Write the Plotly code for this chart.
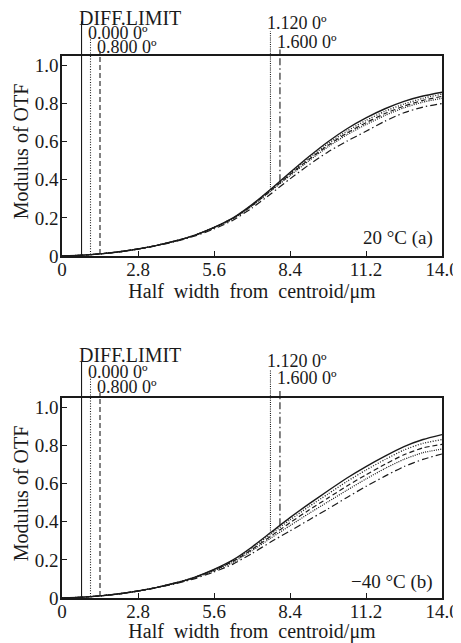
import numpy as np
import plotly.graph_objects as go

# ---------------- data ----------------
x_um = [0, 0.7, 1.4, 2.1, 2.8, 3.5, 4.2, 4.9, 5.6, 6.3, 7.0, 7.7, 8.4, 9.1, 9.8,
        10.5, 11.2, 11.9, 12.6, 13.3, 14.0]

series_names = ["DIFF.LIMIT", "0.000 0º", "0.800 0º", "1.120 0º", "1.600 0º"]
field_marker_x = [0.72, 1.05, 1.40, 7.68, 8.03]

# (a) 20 °C
top_diff = [0, .004, .011, .022, .037, .056, .080, .110, .150, .200, .270, .352, .438,
            .522, .600, .668, .725, .773, .812, .840, .860]
top_000 = [0, .004, .011, .022, .037, .056, .080, .110, .150, .199, .268, .349, .433,
           .514, .590, .656, .712, .760, .798, .828, .850]
top_800 = [0, .004, .011, .022, .037, .056, .080, .109, .149, .197, .265, .345, .428,
           .507, .581, .646, .700, .748, .787, .817, .838]
top_1120 = [0, .004, .011, .022, .037, .056, .079, .108, .147, .195, .262, .341, .422,
            .500, .573, .637, .690, .738, .778, .808, .828]
top_1600 = [0, .004, .011, .021, .036, .054, .077, .105, .142, .188, .252, .327, .405,
            .479, .546, .603, .655, .708, .752, .782, .800]

# (b) -40 °C
bot_diff = [0, .004, .011, .022, .037, .056, .080, .110, .150, .200, .268, .345, .422,
            .494, .563, .630, .690, .745, .795, .832, .858]
bot_000 = [0, .004, .011, .022, .037, .056, .080, .109, .148, .196, .262, .336, .410,
           .480, .546, .612, .672, .727, .777, .812, .832]
bot_800 = [0, .004, .011, .022, .037, .056, .079, .108, .146, .192, .255, .325, .395,
           .462, .525, .588, .647, .702, .752, .788, .807]
bot_1120 = [0, .004, .011, .022, .037, .055, .078, .106, .143, .187, .248, .315, .380,
            .444, .505, .566, .625, .680, .728, .763, .782]
bot_1600 = [0, .004, .011, .021, .036, .054, .076, .102, .137, .178, .234, .295, .352,
            .410, .468, .528, .586, .640, .690, .728, .756]

x_tickvals = [0, 2.8, 5.6, 8.4, 11.2, 14.0]
x_ticktext = ["0", "2.8", "5.6", "8.4", "11.2", "14.0"]
y_tickvals = [0, 0.2, 0.4, 0.6, 0.8, 1.0]
y_ticktext = ["0", "0.2", "0.4", "0.6", "0.8", "1.0"]

panel_notes = ["20 °C (a)", "−40 °C (b)"]
x_title = "Half\u00a0 width\u00a0 from\u00a0 centroid/μm"
y_title = "Modulus of OTF"

# ---------------- style / layout ----------------
# the page body has an 8px margin, so the figure is drawn 8px in from the corner
OFF = 8
W, H = 461 - OFF, 643 - OFF
ML, MR, MT = 62 - OFF, 19, 0
PANEL_BOTTOM_WIN = [256, 598]
MB = H - (PANEL_BOTTOM_WIN[1] - OFF)
PH = H - MT - MB
FONT = "Liberation Serif"
INK = "#1a1a1a"
dashes = ["solid", "1px,1.6px", "5px,3px", "1px,1.2px", "7px,3px,1.5px,3px"]
widths = [1.4, 1.3, 1.2, 1.2, 1.2]

Y_MAIN_TOP = 1.05
Y_UP_TOP = 1.30
# per-panel label text heights and vertical marker tops (upper band, data units)
label_y = [[1.250, 1.172, 1.097, 1.222, 1.124], [1.274, 1.184, 1.106, 1.242, 1.154]]
line_top = [[1.232, 1.153, 1.084, 1.180, 1.084], [1.240, 1.158, 1.084, 1.198, 1.094]]
note_y = [0.095, 0.085]
title_standoff = [4, 5]

panel_bottom_px = [v - OFF for v in PANEL_BOTTOM_WIN]
main_h_px = 200


def dom(px_low, px_high):
    return [(H - MB - px_low) / PH, min(1.0, (H - MB - px_high) / PH)]


fig = go.Figure()
panels = [
    [top_diff, top_000, top_800, top_1120, top_1600],
    [bot_diff, bot_000, bot_800, bot_1120, bot_1600],
]

layout_axes = {}
annotations = []
for p, series in enumerate(panels):
    xm = f"x{2 * p + 1}" if p else "x"
    ym = f"y{2 * p + 1}" if p else "y"
    xu = f"x{2 * p + 2}"
    yu = f"y{2 * p + 2}"
    b = panel_bottom_px[p]
    t = b - main_h_px
    up_px = (Y_UP_TOP - Y_MAIN_TOP) / Y_MAIN_TOP * main_h_px
    d_main = dom(b, t)
    d_up = dom(t, t - up_px)

    # curves
    for k, ys in enumerate(series):
        fig.add_trace(go.Scatter(x=x_um, y=ys, mode="lines", xaxis=xm, yaxis=ym,
                                 line=dict(color=INK, width=widths[k], dash=dashes[k],
                                           shape="spline", smoothing=0.6),
                                 showlegend=False, hoverinfo="skip"))
    # vertical field markers (from the diffraction curve up into the label band)
    for k, xv in enumerate(field_marker_x):
        y0 = float(np.interp(xv, x_um, series[0]))
        fig.add_trace(go.Scatter(x=[xv, xv], y=[y0, Y_UP_TOP], mode="lines",
                                 xaxis=xm, yaxis=ym,
                                 line=dict(color=INK, width=1.1, dash=dashes[k]),
                                 showlegend=False, hoverinfo="skip"))
        fig.add_trace(go.Scatter(x=[xv, xv], y=[Y_MAIN_TOP, line_top[p][k]], mode="lines",
                                 xaxis=xu, yaxis=yu,
                                 line=dict(color=INK, width=1.1, dash=dashes[k]),
                                 showlegend=False, hoverinfo="skip"))
        annotations.append(dict(x=xv, y=label_y[p][k], xref=xu, yref=yu,
                                text=series_names[k], showarrow=False, borderpad=0,
                                xanchor="left", yanchor="middle", xshift=-4,
                                font=dict(family=FONT, size=20 if k == 0 else 18,
                                          color=INK)))
    annotations.append(dict(x=14.0, y=note_y[p], xref=xm, yref=ym, text=panel_notes[p],
                            showarrow=False, xanchor="right", yanchor="middle",
                            xshift=-7, font=dict(family=FONT, size=19, color=INK)))
    annotations.append(dict(x=0, y=0.55, xref="paper", yref=ym, text=y_title,
                            showarrow=False, textangle=-90, xanchor="center",
                            yanchor="middle", xshift=-41,
                            font=dict(family=FONT, size=20, color=INK)))

    key_xm = "xaxis" if p == 0 else f"xaxis{2 * p + 1}"
    key_ym = "yaxis" if p == 0 else f"yaxis{2 * p + 1}"
    layout_axes[key_xm] = dict(
        domain=[0, 1], range=[0, 14.0], anchor=ym, showgrid=False, zeroline=False,
        showline=True, mirror=True, linecolor=INK, linewidth=1.6,
        ticks="inside", ticklen=5, tickwidth=1.3, tickcolor=INK,
        tickvals=x_tickvals, ticktext=x_ticktext, ticklabelstandoff=-5,
        tickfont=dict(family=FONT, size=19, color=INK),
        title=dict(text=x_title, standoff=title_standoff[p],
                   font=dict(family=FONT, size=20, color=INK)))
    layout_axes[key_ym] = dict(
        domain=d_main, range=[0, Y_MAIN_TOP], anchor=xm, showgrid=False, zeroline=False,
        showline=True, mirror=True, linecolor=INK, linewidth=1.6,
        ticks="inside", ticklen=5, tickwidth=1.3, tickcolor=INK,
        tickvals=y_tickvals, ticktext=y_ticktext, ticklabelstandoff=-2,
        tickfont=dict(family=FONT, size=19, color=INK))
    layout_axes[f"xaxis{2 * p + 2}"] = dict(domain=[0, 1], range=[0, 14.0], anchor=yu,
                                            visible=False)
    layout_axes[f"yaxis{2 * p + 2}"] = dict(domain=d_up, range=[Y_MAIN_TOP, Y_UP_TOP],
                                            anchor=xu, visible=False)

fig.update_layout(
    width=W, height=H, margin=dict(l=ML, r=MR, t=MT, b=MB),
    paper_bgcolor="white", plot_bgcolor="white",
    annotations=annotations, showlegend=False,
    **layout_axes,
)

fig.write_html("out.html")
